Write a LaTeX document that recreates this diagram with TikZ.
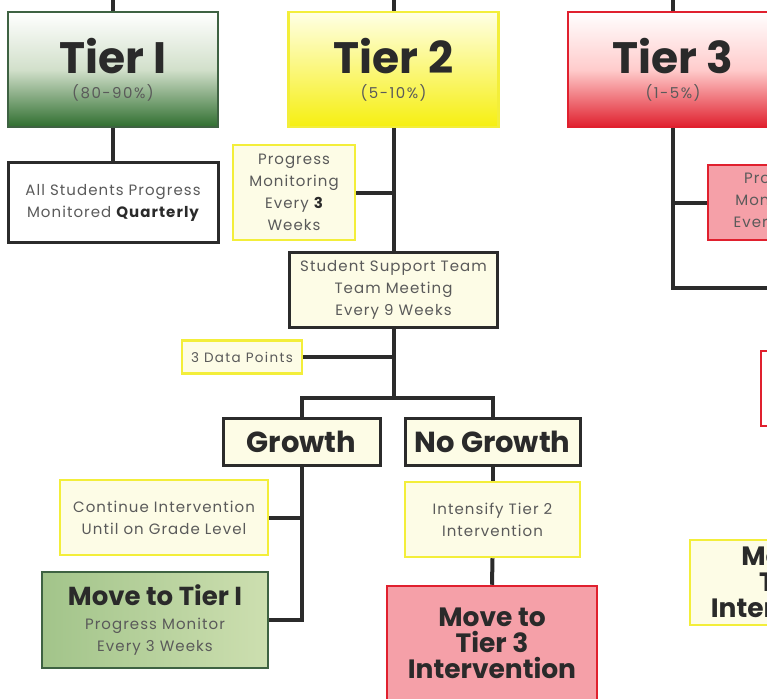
\documentclass[tikz,border=0pt]{standalone}
\usepackage{fontspec}
\setmainfont{Poppins}
\newfontfamily\bodyfont[LetterSpace=7]{Poppins}
\newfontfamily\smallfont[LetterSpace=10]{Poppins}
\usetikzlibrary{positioning,calc}

\definecolor{linegray}{HTML}{2B2B2B}
\definecolor{textgray}{HTML}{5A5A5A}
\definecolor{titlegray}{HTML}{2A2A2A}
\definecolor{cream}{HTML}{FDFCE6}
\definecolor{boxyellow}{HTML}{F3EE3A}
\definecolor{tiergreen}{HTML}{3E6242}
\definecolor{darkgreen}{HTML}{2F6E2F}
\definecolor{lightgreen}{HTML}{D2E0CB}
\definecolor{tieryellow}{HTML}{F6EF10}
\definecolor{tierred}{HTML}{E0202E}
\definecolor{pinkfill}{HTML}{F5A0A8}
\definecolor{movegreenL}{HTML}{A2C48A}
\definecolor{movegreenR}{HTML}{CDDFB0}

\newcommand{\tiertitle}{\rmfamily\fontsize{44}{46}\selectfont\bfseries\color{titlegray}}
\newcommand{\tierpct}{\smallfont\fontsize{15}{16}\selectfont\color{textgray}}
\newcommand{\bodytext}{\bodyfont\fontsize{15}{22}\selectfont\color{textgray}}
\newcommand{\datatext}{\smallfont\fontsize{13.5}{15}\selectfont\color{textgray}}
\newcommand{\choicetext}{\rmfamily\fontsize{29}{32}\selectfont\bfseries\color{titlegray}}
\newcommand{\movetext}{\rmfamily\fontsize{26.5}{26}\selectfont\bfseries\color{titlegray}}
\newcommand{\movetitle}{\rmfamily\fontsize{26}{28}\selectfont\bfseries\color{titlegray}}

\tikzset{
  line/.style={draw=linegray, line width=4pt},
  tierbox/.style={minimum width=210pt, minimum height=115pt, line width=2.5pt, align=center, font=\tierpct},
  darkbox/.style={draw=linegray, line width=3pt, fill=cream, align=center, inner sep=2pt, font=\bodytext},
  yellowbox/.style={draw=boxyellow, line width=2.5pt, fill=cream, align=center, inner sep=2pt, font=\bodytext},
}

\begin{document}
\begin{tikzpicture}[x=1pt,y=1pt]
  \useasboundingbox (0,0) rectangle (767,-698);
  \fill[white] (0,0) rectangle (767,-698);
  \clip (0,0) rectangle (767,-698);

  % tiers
  \node[tierbox, draw=tiergreen, top color=white, bottom color=darkgreen, middle color=lightgreen] at (113,-69.5) (tier1) {{\tiertitle Tier I}\\[9pt](80-90\%)};
  \node[tierbox, draw=boxyellow, top color=white!90!yellow, bottom color=tieryellow, right=68pt of tier1] (tier2) {{\tiertitle Tier 2}\\[9pt](5-10\%)};
  \node[tierbox, draw=tierred, top color=white, bottom color=tierred, middle color=red!20!white, right=67pt of tier2] (tier3) {{\tiertitle Tier 3}\\[9pt](1-5\%)};

  \coordinate (top1) at (tier1.north |- 0,0);
  \coordinate (top2) at (tier2.north |- 0,0);
  \coordinate (top3) at (tier3.north |- 0,0);

  % tier 1 column
  \node[darkbox, fill=white, minimum width=210pt, minimum height=80pt, below=33pt of tier1] (allstud) {All Students Progress\\Monitored {\bfseries\color{titlegray}Quarterly}};

  % tier 2 column
  \node[yellowbox, minimum width=122pt, minimum height=95pt] at (294,-192.5) (progmon) {Progress\\Monitoring\\Every {\bfseries\color{titlegray}3}\\Weeks};
  \node[darkbox, minimum width=208pt, minimum height=75pt, below=123pt of tier2] (sst) {Student Support Team\\Team Meeting\\Every 9 Weeks};
  \node[yellowbox, minimum width=120pt, minimum height=33pt, font=\datatext] at (242,-357) (datapts) {3 Data Points};
  \coordinate (split) at (sst.south |- 0,-398);

  \node[darkbox, minimum width=157pt, minimum height=47pt, font=\choicetext] at (301.5,-441.5) (growth) {Growth};
  \node[darkbox, minimum width=175pt, minimum height=47pt, font=\choicetext] at (492.5,-441.5) (nogrowth) {No Growth};

  \node[yellowbox, minimum width=208pt, minimum height=75pt] at (164,-517.5) (continue) {Continue Intervention\\Until on Grade Level};
  \node[draw=tiergreen, line width=2.5pt, left color=movegreenL, right color=movegreenR, minimum width=226pt, minimum height=96pt, align=center, font=\bodytext] at (155,-620) (movetier1) {{\movetitle Move to Tier I}\\[2pt]Progress Monitor\\Every 3 Weeks};

  \node[yellowbox, minimum width=175pt, minimum height=75pt] at (492.5,-519.5) (intensify) {Intensify Tier 2\\Intervention};
  \node[draw=tierred, line width=2.5pt, fill=pinkfill, minimum width=210pt, minimum height=114pt, align=center, font=\movetext] at (492,-643) (movetier3) {Move to\\Tier 3\\Intervention};

  % tier 3 column
  \node[draw=tierred, line width=2pt, fill=pinkfill, minimum width=144pt, minimum height=75pt, align=center, font=\bodytext] at (780,-202.5) (progmon3) {Progress\\Monitoring\\Every Week};
  \node[draw=tierred, line width=2pt, fill=white, minimum width=120pt, minimum height=75pt, anchor=north west] at (760,-350) (tier3box) {};
  \node[yellowbox, minimum width=210pt, minimum height=85pt, font=\movetext] at (795,-582.5) (movetier2) {Move to\\Tier 2\\Intervention};
  \coordinate (t3turn) at (tier3.south |- 0,-288);
  \coordinate (t3end) at (790,-288);

  % connectors
  \foreach \t/\n in {top1/tier1,top2/tier2,top3/tier3}{
    \draw[line] (\t) -- (\n.north);
  }
  \draw[line] (tier1.south) -- (allstud.north);
  \draw[line] (tier2.south) -- (sst.north);
  \draw[line] (progmon.east) -- (progmon.east -| tier2.south);
  \draw[line] (sst.south) -- (split);
  \draw[line] (datapts.east) -- (datapts.east -| split);
  \draw[line] (growth.north) |- (split) -| (nogrowth.north);
  \draw[line] (growth.south) -- (growth.south |- movetier1.east) -- (movetier1.east);
  \draw[line] (continue.east) -- (continue.east -| growth.south);
  \draw[line] (nogrowth.south) -- (intensify.north);
  \draw[line] (intensify.south) -- (movetier3.north);
  \draw[line] (tier3.south) -- (t3turn) -- (t3end);
  \draw[line] (progmon3.west) -- (progmon3.west -| tier3.south);

\end{tikzpicture}
\end{document}
